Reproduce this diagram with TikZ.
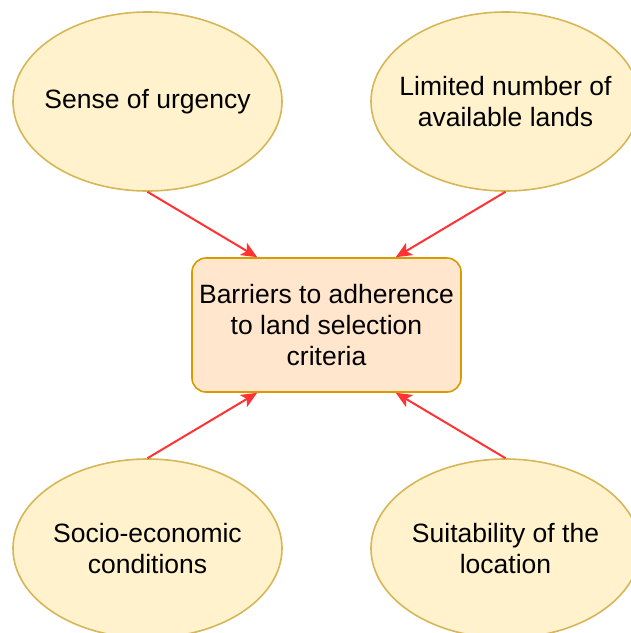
\documentclass[tikz,border=0pt]{standalone}
\usepackage{fontspec}
\setmainfont{Liberation Sans}
\usetikzlibrary{shapes.geometric,arrows.meta}
\definecolor{ellfill}{HTML}{FFF2CC}
\definecolor{elldraw}{HTML}{D6B656}
\definecolor{boxfill}{HTML}{FFE6CC}
\definecolor{boxdraw}{HTML}{D79B00}
\definecolor{arr}{HTML}{FF3333}
\tikzset{
  x=1pt,y=1pt,
  ell/.style={ellipse,draw=elldraw,fill=ellfill,line width=1.6pt,minimum width=269pt,minimum height=179pt,inner sep=-30pt,align=center,font=\fontsize{26.5}{31}\selectfont},
  mainbox/.style={rectangle,rounded corners=14pt,draw=boxdraw,fill=boxfill,line width=1.6pt,minimum width=269pt,minimum height=134pt,inner sep=0pt,align=center,font=\fontsize{26.5}{31}\selectfont},
  conn/.style={draw=arr,line width=2pt,-{Stealth[length=16pt,width=14pt,inset=4pt]}}
}
\begin{document}
\begin{tikzpicture}
\useasboundingbox (0,0) rectangle (631,-633);
\node[ell] (tl) at (147.5,-101.5) {Sense of urgency};
\node[ell] (tr) at (505.5,-101.5) {Limited number of\\available lands};
\node[ell] (bl) at (147.5,-548.5) {Socio-economic\\conditions};
\node[ell] (br) at (505.5,-548.5) {Suitability of the\\location};
\node[mainbox] (c) at (326.5,-325) {Barriers to adherence\\to land selection\\criteria};
\draw[conn] (tl.south) -- ([xshift=66pt]c.north west);
\draw[conn] (tr.south) -- ([xshift=-66pt]c.north east);
\draw[conn] (bl.north) -- ([xshift=66pt]c.south west);
\draw[conn] (br.north) -- ([xshift=-66pt]c.south east);
\end{tikzpicture}
\end{document}
